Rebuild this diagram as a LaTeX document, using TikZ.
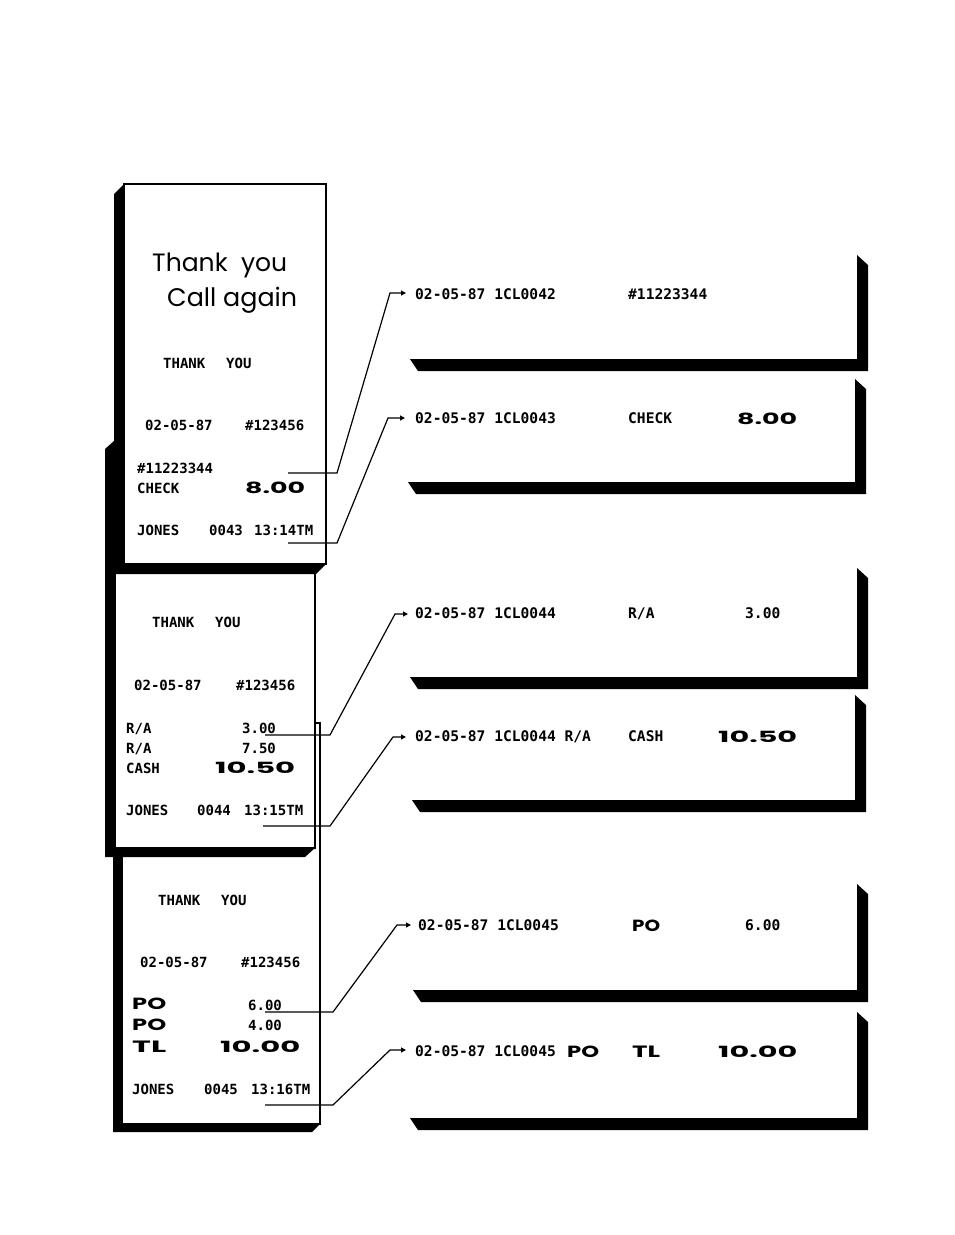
\documentclass[tikz,border=0pt]{standalone}
\usepackage{fontspec}
\usepackage{graphicx}
\usetikzlibrary{arrows.meta}
\newfontfamily\rmono{DejaVu Sans Mono}
\newfontfamily\bigf{Poppins}
\newfontfamily\handf{Poppins}
\newcommand\bignum[2]{\resizebox{#1pt}{11.5pt}{\bigf\bfseries #2}}
\begin{document}
\begin{tikzpicture}[x=1pt,y=-1pt,
  panel/.style={fill=white,draw=black,line width=1.4pt},
  rt/.style={font=\rmono\bfseries\fontsize{14}{14}\selectfont, anchor=base west, inner sep=0pt},
  st/.style={font=\rmono\bfseries\fontsize{14.6}{15}\selectfont, anchor=base west, inner sep=0pt},
  bt/.style={anchor=base west, inner sep=0pt},
  conn/.style={line width=1.2pt, -{Triangle[length=5pt,width=5pt]}},
]
\useasboundingbox (0,0) rectangle (954,1235);
\fill[white] (0,0) rectangle (954,1235);

% ---------- receipt 3 (back) ----------
\fill (122,723) -- (320,723) -- (320,1124) -- (312,1132) -- (113,1132) -- (113,731) -- cycle;
\draw[panel] (122,723) rectangle (320,1124);
% ---------- receipt 2 ----------
\fill (115,440) -- (315,440) -- (315,848) -- (305,857) -- (105,857) -- (105,449) -- cycle;
\draw[panel] (115,440) rectangle (315,848);
% ---------- receipt 1 (front) ----------
\fill (124,184) -- (326,184) -- (326,564) -- (316,574) -- (114,574) -- (114,194) -- cycle;
\draw[panel] (124,184) rectangle (326,564);

% ---------- strips ----------
\foreach \t/\b/\l/\r in {255/371/410/868, 379/494/408/866, 568/689/410/868, 695/812/412/866, 884/1002/413/868, 1012/1130/410/868} {
  \fill ({\r-11},{\t}) -- ({\r},{\t+10}) -- ({\r},{\b}) -- ({\l+8},{\b}) -- ({\l},{\b-12}) -- ({\r-11},{\b-12}) -- cycle;
}

% ---------- receipt 1 text ----------
\node[bt] (hand1) at (152,271) {\resizebox{135pt}{!}{\handf Thank\ \ you}};
\node[bt] (hand2) at (167,306) {\resizebox{130pt}{!}{\handf Call again}};
\node[rt] (a1) at (163,368) {THANK};
\node[rt] (a2) at (226,368) {YOU};
\node[rt] (a3) at (145,430) {02-05-87};
\node[rt] (a4) at (245,430) {\#123456};
\node[rt] (a5) at (137,473) {\#11223344};
\node[rt] (a6) at (137,493) {CHECK};
\node[bt] (a7) at (245,493) {\bignum{60}{8.00}};
\node[rt] (a8) at (137,535) {JONES};
\node[rt] (a9) at (209,535) {0043};
\node[rt] (a10) at (254,535) {13:14TM};

% ---------- receipt 2 text ----------
\node[rt] (b1) at (152,627) {THANK};
\node[rt] (b2) at (215,627) {YOU};
\node[rt] (b3) at (134,690) {02-05-87};
\node[rt] (b4) at (236,690) {\#123456};
\node[rt] (b5) at (126,733) {R/A};
\node[rt] (b6) at (242,733) {3.00};
\node[rt] (b7) at (126,753) {R/A};
\node[rt] (b8) at (242,753) {7.50};
\node[rt] (b9) at (126,773) {CASH};
\node[bt] (b10) at (215,773) {\bignum{80}{10.50}};
\node[rt] (b11) at (126,815) {JONES};
\node[rt] (b12) at (197,815) {0044};
\node[rt] (b13) at (244,815) {13:15TM};

% ---------- receipt 3 text ----------
\node[rt] (c1) at (158,905) {THANK};
\node[rt] (c2) at (221,905) {YOU};
\node[rt] (c3) at (140,967) {02-05-87};
\node[rt] (c4) at (241,967) {\#123456};
\node[bt] (c5) at (132,1009) {\bignum{34}{PO}};
\node[rt] (c6) at (248,1010) {6.00};
\node[bt] (c7) at (132,1030) {\bignum{34}{PO}};
\node[rt] (c8) at (248,1030) {4.00};
\node[bt] (c9) at (132,1052) {\bignum{34}{TL}};
\node[bt] (c10) at (220,1052) {\bignum{80}{10.00}};
\node[rt] (c11) at (132,1094) {JONES};
\node[rt] (c12) at (204,1094) {0045};
\node[rt] (c13) at (251,1094) {13:16TM};

% ---------- strip text ----------
\node[st] (s1a) at (415,299) {02-05-87 1CL0042};
\node[st] (s1b) at (628,299) {\#11223344};
\node[st] (s2a) at (415,423) {02-05-87 1CL0043};
\node[st] (s2b) at (628,423) {CHECK};
\node[bt] (s2c) at (737,424) {\bignum{60}{8.00}};
\node[st] (s3a) at (415,618) {02-05-87 1CL0044};
\node[st] (s3b) at (628,618) {R/A};
\node[st] (s3c) at (745,618) {3.00};
\node[st] (s4a) at (415,741) {02-05-87 1CL0044 R/A};
\node[st] (s4b) at (628,741) {CASH};
\node[bt] (s4c) at (718,742) {\bignum{79}{10.50}};
\node[st] (s5a) at (418,930) {02-05-87 1CL0045};
\node[bt] (s5b) at (632,931) {\bignum{28}{PO}};
\node[st] (s5c) at (745,930) {6.00};
\node[st] (s6a) at (415,1056) {02-05-87 1CL0045};
\node[bt] (s6b) at (567,1057) {\bignum{32}{PO}};
\node[bt] (s6c) at (632,1057) {\bignum{28}{TL}};
\node[bt] (s6d) at (718,1057) {\bignum{79}{10.00}};

% ---------- connectors ----------
\coordinate (p1) at (288,473);  \coordinate (q1) at (337,473);  \coordinate (u1) at (390,293);  \coordinate (e1) at (406,293);
\coordinate (p2) at (288,543);  \coordinate (q2) at (337,543);  \coordinate (u2) at (388,418);  \coordinate (e2) at (405,418);
\coordinate (p3) at (265,735);  \coordinate (q3) at (330,735);  \coordinate (u3) at (395,614);  \coordinate (e3) at (408,614);
\coordinate (p4) at (263,826);  \coordinate (q4) at (330,826);  \coordinate (u4) at (393,737);  \coordinate (e4) at (406,737);
\coordinate (p5) at (265,1012); \coordinate (q5) at (333,1012); \coordinate (u5) at (397,925);  \coordinate (e5) at (411,925);
\coordinate (p6) at (265,1105); \coordinate (q6) at (333,1105); \coordinate (u6) at (390,1050); \coordinate (e6) at (406,1050);
\foreach \i in {1,...,6} {
  \draw[conn] (p\i) -- (q\i) -- (u\i) -- (e\i);
}
\end{tikzpicture}
\end{document}
